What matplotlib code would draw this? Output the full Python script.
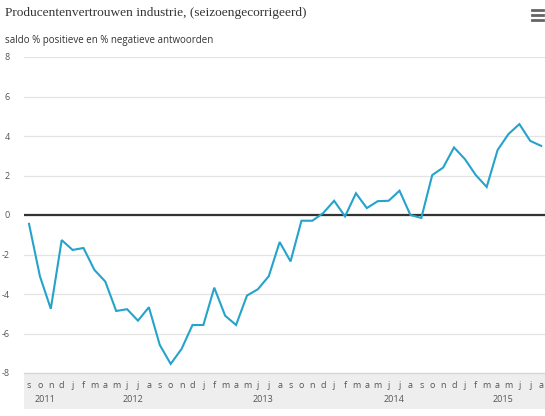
import matplotlib
matplotlib.use("Agg")
import matplotlib.pyplot as plt
import matplotlib.patches as mpatches
import numpy as np

# Sep 2011 .. Aug 2015, monthly
months = ["s", "o", "n", "d",
          "j", "f", "m", "a", "m", "j", "j", "a", "s", "o", "n", "d",
          "j", "f", "m", "a", "m", "j", "j", "a", "s", "o", "n", "d",
          "j", "f", "m", "a", "m", "j", "j", "a", "s", "o", "n", "d",
          "j", "f", "m", "a", "m", "j", "j", "a"]
values = [-0.45, -3.1, -4.75, -1.27,
          -1.77, -1.67, -2.78, -3.37, -4.86, -4.77, -5.35, -4.67, -6.58, -7.54, -6.78, -5.57,
          -5.57, -3.68, -5.1, -5.57, -4.08, -3.76, -3.1, -1.37, -2.35, -0.29, -0.29, 0.1,
          0.72, -0.07, 1.1, 0.35, 0.7, 0.72, 1.23, 0.0, -0.15, 2.02, 2.4, 3.42,
          2.83, 2.02, 1.42, 3.29, 4.1, 4.6, 3.75, 3.5]
years = ["2011", "2012", "2013", "2014", "2015"]
year_start = [0, 4, 16, 28, 40]
year_end = [3, 15, 27, 39, 47]
yticks = [-8, -6, -4, -2, 0, 2, 4, 6, 8]

LINE = "#25a3cb"
GREY = "#555555"

fig = plt.figure(figsize=(5.45, 4.16), dpi=100)
ax = fig.add_axes([24 / 545, 43 / 416, 521 / 545, 316 / 416])

x = np.arange(len(values))
ax.plot(x, values, color=LINE, lw=1.5, zorder=3, solid_joinstyle="miter")
ax.axhline(0, color="#333333", lw=1.6, zorder=2)

ax.set_xlim(-0.46, 47.35)
ax.set_ylim(-8, 8)
ax.set_yticks(yticks)
ax.set_yticklabels([str(v) for v in yticks], fontsize=6.5, color=GREY, family="Open Sans")
ax.tick_params(axis="y", length=0, pad=10)
for t in ax.get_yticklabels():
    t.set_horizontalalignment("right")
ax.grid(axis="y", color="#e4e4e4", lw=0.9)
ax.set_axisbelow(True)
for s in ax.spines.values():
    s.set_visible(False)

ax.set_xticks(x)
ax.set_xticklabels(months, fontsize=6.5, color=GREY, family="Open Sans")
ax.tick_params(axis="x", length=0, pad=6)

# grey band under the plot area
band = mpatches.Rectangle((0, -36 / 316), 1, 36 / 316, transform=ax.transAxes,
                          facecolor="#eeeeee", edgecolor="none", clip_on=False, zorder=0)
ax.add_patch(band)
ax.plot([0, 1], [0, 0], transform=ax.transAxes, color="#d8d8d8", lw=1, clip_on=False)

for label, a, b in zip(years, year_start, year_end):
    ax.text((a + b) / 2, -26 / 316, label, transform=ax.get_xaxis_transform(),
            ha="center", va="center", fontsize=6.5, color=GREY, family="Open Sans")

fig.text(5 / 545, 1 - 13 / 416, "Producentenvertrouwen industrie, (seizoengecorrigeerd)",
         ha="left", va="center", fontsize=9.6, color="#333333", family="Liberation Serif")
fig.text(5 / 545, 1 - 40 / 416, "saldo % positieve en % negatieve antwoorden",
         ha="left", va="center", fontsize=7, color="#333333", family="Open Sans")

# menu icon
for yy in (10, 15, 20):
    fig.add_artist(plt.Line2D([532 / 545, 543 / 545], [1 - yy / 416, 1 - yy / 416],
                              color="#666666", lw=2))

fig.savefig("out.png", dpi=100)
